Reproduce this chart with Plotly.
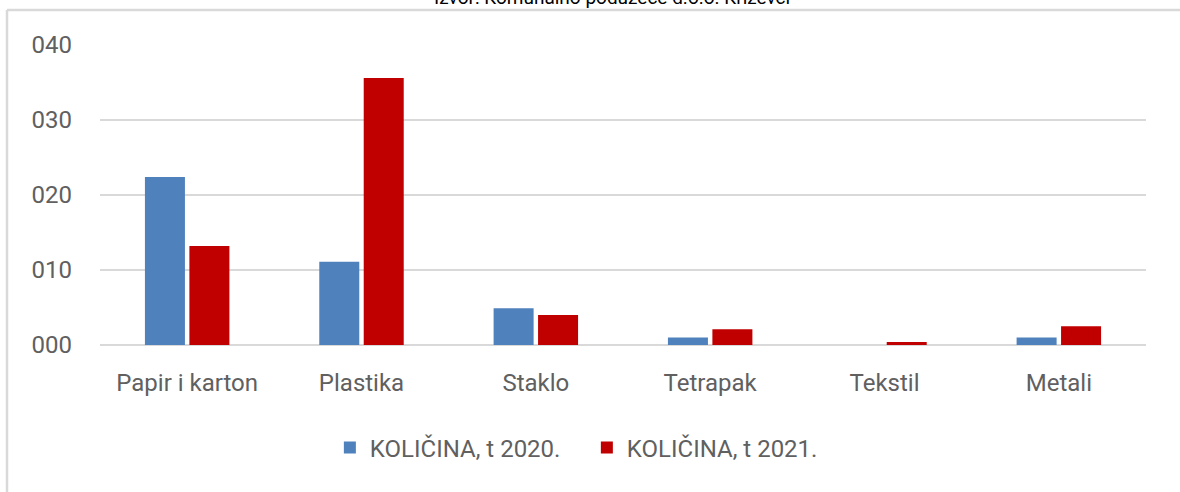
import plotly.graph_objects as go

categories = ["Papir i karton", "Plastika", "Staklo", "Tetrapak", "Tekstil", "Metali"]
values_2020 = [22.4, 11.1, 4.9, 1.0, 0.0, 1.0]
values_2021 = [13.2, 35.6, 4.0, 2.1, 0.4, 2.5]
series_names = ["KOLIČINA, t 2020.", "KOLIČINA, t 2021."]
tick_vals = [0, 10, 20, 30, 40]
tick_text = ["000", "010", "020", "030", "040"]
source_text = "Izvor: Komunalno poduzeće d.o.o. Križevci"

FONT = "Roboto"
GRAY = "#606060"
GRID = "#d9d9d9"

fig = go.Figure()
fig.add_trace(go.Bar(x=categories, y=values_2020, name=series_names[0],
                     marker=dict(color="#4f81bd", line=dict(width=0))))
fig.add_trace(go.Bar(x=categories, y=values_2021, name=series_names[1],
                     marker=dict(color="#c00000", line=dict(width=0))))

L, R, T, B = 100, 34, 45, 147
W, H = 1180, 492
pw, ph = W - L - R, H - T - B

def px2x(px):
    return (px - L) / pw

def py2y(py):
    return (H - B - py) / ph

fig.update_layout(
    width=W, height=H,
    margin=dict(l=L, r=R, t=T, b=B),
    paper_bgcolor="white", plot_bgcolor="white",
    barmode="group", bargap=0.49, bargroupgap=0.1,
    font=dict(family=FONT, color=GRAY, size=24),
    showlegend=True,
    legend=dict(orientation="h", x=px2x(333) - 0.003, xanchor="left",
                y=py2y(448), yanchor="middle",
                font=dict(family=FONT, size=24, color=GRAY),
                itemsizing="constant", traceorder="normal",
                itemwidth=30, entrywidth=212),
    xaxis=dict(showgrid=False, showline=False, ticks="",
               tickfont=dict(family=FONT, size=24, color=GRAY),
               ticklabelstandoff=21),
    yaxis=dict(range=[0, 40], tickvals=tick_vals, ticktext=tick_text,
               showgrid=True, gridcolor=GRID, gridwidth=2,
               zeroline=True, zerolinecolor=GRID, zerolinewidth=2,
               showline=False, ticks="",
               tickfont=dict(family=FONT, size=24, color=GRAY),
               ticklabelstandoff=27),
)

# chart frame (left and top borders)
fig.add_shape(type="line", xref="paper", yref="paper",
              x0=px2x(7), x1=px2x(7), y0=py2y(10), y1=py2y(500),
              line=dict(color=GRID, width=2.5))
fig.add_shape(type="line", xref="paper", yref="paper",
              x0=px2x(7), x1=px2x(1190), y0=py2y(10), y1=py2y(10),
              line=dict(color=GRID, width=2.5))

fig.add_annotation(text=source_text, xref="paper", yref="paper",
                   x=px2x(612), y=py2y(-3), xanchor="center", yanchor="middle",
                   showarrow=False, font=dict(family=FONT, size=19, color="black"))

fig.write_html("out.html", config={"displayModeBar": False},
               post_script="document.body.style.margin='0';document.body.style.overflow='hidden';")
